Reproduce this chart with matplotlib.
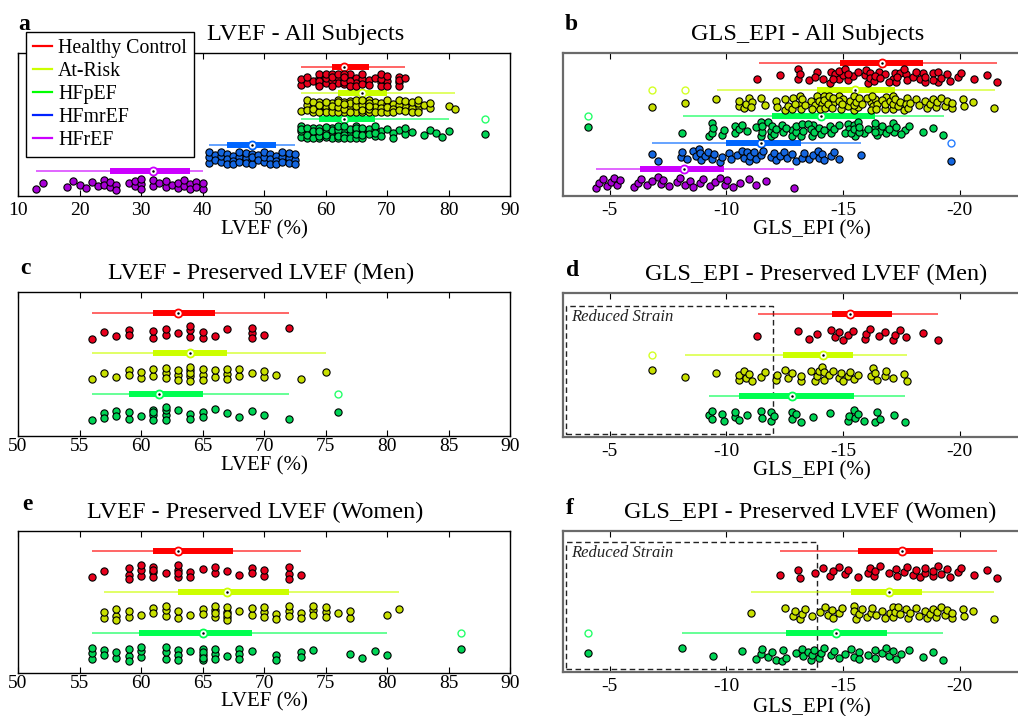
import numpy as np
import matplotlib
matplotlib.use('Agg')
import matplotlib.pyplot as plt
from matplotlib.lines import Line2D
from matplotlib.patches import Rectangle
import matplotlib.transforms as mtransforms

plt.rcParams['font.family'] = ['Liberation Serif', 'DejaVu Serif']

# ---------------- data ----------------
group_names = ['Healthy Control', 'At-Risk', 'HFpEF', 'HFmrEF', 'HFrEF']

# LVEF, preserved LVEF, men
c_hc = [56, 57, 58, 59, 59, 61, 61, 62, 62, 63, 64, 64, 64, 65, 65, 66, 67, 69, 69, 69, 70, 72]
c_ar = [56, 57, 58, 59, 59, 60, 60, 61, 61, 62, 62, 62, 63, 63, 63, 64, 64, 64, 64, 64, 65, 65, 65,
        66, 66, 67, 67, 67, 68, 68, 69, 70, 70, 71, 73, 75]
c_pef = [56, 57, 57, 58, 58, 59, 59, 60, 61, 61, 61, 61, 62, 62, 62, 62, 63, 64, 64, 65, 65, 66, 67,
         68, 69, 70, 72, 76]
# LVEF, preserved LVEF, women
e_hc = [56, 57, 59, 59, 59, 60, 60, 60, 61, 61, 61, 61, 62, 63, 63, 63, 63, 64, 64, 65, 66, 66, 67,
        68, 69, 69, 70, 70, 72, 72, 72, 73]
e_ar = [57, 57, 58, 58, 58, 59, 59, 60, 61, 61, 62, 62, 62, 63, 63, 64, 65, 65, 66, 66, 66, 66, 67,
        67, 67, 67, 67, 68, 69, 69, 70, 70, 70, 71, 71, 72, 72, 72, 73, 73, 74, 74, 74, 75, 75, 75,
        76, 77, 77, 80, 81]
e_pef = [56, 56, 56, 57, 57, 58, 58, 59, 59, 59, 60, 60, 60, 62, 62, 62, 63, 63, 63, 64, 65, 65, 65,
         65, 65, 66, 66, 66, 67, 68, 68, 68, 69, 71, 71, 73, 73, 74, 77, 78, 79, 80, 86]
# LVEF, reduced / mildly reduced
a_mref = [41, 41, 41, 42, 42, 43, 43, 43, 44, 44, 44, 45, 45, 45, 46, 46, 46, 47, 47, 47, 48, 48, 48,
          48, 49, 49, 50, 50, 50, 51, 51, 51, 52, 52, 52, 53, 53, 53, 54, 54, 54, 55, 55, 55]
a_ref = [13, 14, 18, 19, 20, 21, 22, 23, 24, 24, 25, 25, 26, 26, 28, 29, 29, 30, 30, 30, 32, 32, 33,
         34, 34, 35, 36, 36, 37, 37, 38, 38, 39, 39, 40, 40]

# GLS_EPI, preserved LVEF, men
d_hc = [-11.32, -13.09, -13.55, -13.88, -14.48, -14.67, -14.84, -14.99, -15.2, -15.42, -15.96, -15.99,
        -16.16, -16.54, -16.78, -17.14, -17.21, -17.46, -17.69, -18.41, -19.05]
d_ar = [-6.82, -8.23, -9.54, -10.53, -10.55, -10.75, -10.85, -10.96, -11.1, -11.47, -11.64, -12.11,
        -12.18, -12.5, -12.63, -12.83, -13.19, -13.22, -13.62, -13.81, -13.87, -13.95, -14.12, -14.17,
        -14.2, -14.41, -14.55, -14.81, -14.91, -14.99, -15.2, -15.3, -15.46, -15.63, -16.18, -16.28,
        -16.35, -16.45, -16.81, -16.83, -17.14, -17.63, -17.76]
d_pef = [-9.24, -9.38, -9.4, -9.81, -9.9, -10.36, -10.39, -10.56, -10.88, -11.47, -11.54, -11.9,
         -11.93, -12.04, -12.8, -12.83, -13.0, -13.2, -13.72, -14.44, -15.2, -15.24, -15.46, -15.53,
         -15.63, -15.89, -16.39, -16.47, -16.57, -17.18, -17.64]
# GLS_EPI, preserved LVEF, women
f_hc = [-12.3, -13.09, -13.14, -13.81, -14.13, -14.44, -14.58, -14.84, -15.1, -15.2, -15.63, -16.06,
        -16.14, -16.31, -16.39, -16.59, -16.97, -17.26, -17.31, -17.6, -17.74, -18.0, -18.12, -18.28,
        -18.5, -18.52, -18.84, -18.86, -19.08, -19.2, -19.47, -19.58, -19.94, -20.04, -20.62, -21.16,
        -21.6]
f_ar = [-11.06, -12.52, -12.86, -12.95, -13.15, -13.23, -13.38, -13.66, -14.01, -14.24, -14.34,
        -14.53, -14.58, -14.81, -14.96, -15.46, -15.49, -15.56, -15.68, -15.82, -16.02, -16.18,
        -16.25, -16.42, -16.68, -16.82, -17.0, -17.14, -17.16, -17.21, -17.36, -17.46, -17.69,
        -17.79, -17.86, -18.12, -18.26, -18.51, -18.58, -18.72, -18.87, -18.98, -19.03, -19.22,
        -19.37, -19.44, -19.66, -19.68, -20.13, -20.19, -20.57, -21.48]
f_pef = [-4.07, -8.12, -9.43, -10.68, -11.25, -11.47, -11.54, -11.8, -11.94, -12.11, -12.37, -12.43,
         -12.55, -12.97, -13.23, -13.28, -13.51, -13.62, -13.69, -13.76, -13.98, -14.05, -14.2,
         -14.48, -14.63, -14.84, -15.1, -15.34, -15.49, -15.68, -15.7, -16.06, -16.35, -16.39,
         -16.68, -16.85, -16.97, -17.14, -17.29, -17.5, -17.82, -18.41, -18.87, -19.3]
# GLS_EPI, reduced / mildly reduced
b_mref = [-6.8, -7.08, -8.06, -8.12, -8.3, -8.59, -8.69, -8.81, -8.88, -8.92, -9.1, -9.21, -9.38,
          -9.45, -9.74, -9.81, -10.1, -10.22, -10.46, -10.68, -10.75, -10.89, -10.96, -11.03, -11.18,
          -11.28, -11.47, -11.57, -11.9, -12.04, -12.11, -12.28, -12.47, -12.61, -12.83, -13.0,
          -13.26, -13.33, -13.55, -13.72, -13.91, -13.98, -14.09, -14.2, -14.48, -14.63, -14.84,
          -15.78, -19.61]
b_ref = [-4.43, -4.53, -4.71, -4.9, -5.07, -5.19, -5.33, -5.43, -6.05, -6.22, -6.36, -6.58, -6.8,
         -7.08, -7.2, -7.3, -7.55, -7.87, -8.02, -8.23, -8.45, -8.55, -8.88, -9.02, -9.31, -9.5,
         -9.74, -9.93, -10.03, -10.27, -10.6, -10.96, -11.25, -11.68, -12.9]

# box statistics: median, q1, q3, whisker low, whisker high
a_med = [63, 66, 63, 48, 32]
a_q1 = [61, 62, 59, 44, 25]
a_q3 = [67, 70, 68, 52, 38]
a_wlo = [56, 56, 56, 41, 13]
a_whi = [73, 81, 80, 55, 40]

b_med = [-16.68, -15.53, -14.05, -11.47, -8.2]
b_q1 = [-14.89, -13.9, -11.97, -10.0, -6.29]
b_q3 = [-18.43, -17.24, -16.38, -13.19, -9.89]
b_wlo = [-11.42, -9.6, -8.16, -6.8, -4.43]
b_whi = [-21.62, -21.52, -19.34, -15.78, -12.9]

c_med = [63, 64, 61.5]
c_q1 = [61, 61, 59]
c_q3 = [66, 67, 65]
c_wlo = [56, 56, 56]
c_whi = [72, 75, 72]

d_med = [-15.32, -14.15, -12.83]
d_q1 = [-14.54, -12.43, -10.53]
d_q3 = [-17.11, -15.42, -15.49]
d_wlo = [-11.37, -8.23, -9.24]
d_whi = [-19.05, -17.76, -17.64]

e_med = [63, 67, 65]
e_q1 = [61, 63, 59.8]
e_q3 = [67.5, 72, 69]
e_wlo = [56, 57, 56]
e_whi = [73, 81, 80]

f_med = [-17.53, -16.97, -14.7]
f_q1 = [-15.63, -15.34, -12.55]
f_q3 = [-18.87, -18.4, -16.88]
f_wlo = [-12.3, -11.06, -8.12]
f_whi = [-21.6, -21.48, -19.3]

reduced_strain_men = -12.0
reduced_strain_women = -13.9

lvef_ticks_a = [10, 20, 30, 40, 50, 60, 70, 80, 90]
lvef_ticks_ce = [50, 55, 60, 65, 70, 75, 80, 85, 90]
gls_ticks = [-5, -10, -15, -20]

# ---------------- styling ----------------
line_colors = ['#ff0000', '#ccff00', '#00ff50', '#0066ff', '#cc00ff']
point_colors = ['#e8001c', '#c8e000', '#00d455', '#1466e0', '#a800d6']
legend_colors = ['#ff0000', '#ccff00', '#00ff00', '#0022ff', '#cc00ff']

W, H = 1018, 716
fig = plt.figure(figsize=(W / 100, H / 100), dpi=100)


def add_axes(x0, y0, x1, y1):
    return fig.add_axes([x0 / W, 1 - y1 / H, (x1 - x0) / W, (y1 - y0) / H])


def swarm(ax, vals, yc, band, dmin=5.0, spread=0.75):
    vals = np.asarray(vals, float)
    xy = ax.transData.transform(np.column_stack([vals, np.full(len(vals), yc)]))
    xp = xy[:, 0]
    y0 = xy[0, 1]
    cands = np.arange(-band, band + 0.01, 0.5)
    px_l, py_l = [], []
    offs = np.zeros(len(vals))
    order = np.argsort(vals, kind='stable')
    for k, idx in enumerate(order):
        pref = ((k * 0.6180339887) % 1.0 - 0.5) * 2 * band * spread
        cs = cands[np.argsort(np.abs(cands - pref), kind='stable')]
        if px_l:
            px = np.array(px_l)
            py = np.array(py_l)
            d = np.array([np.min(np.hypot(px - xp[idx], py - c)) for c in cs])
            ok = np.where(d >= dmin)[0]
            c = cs[ok[0]] if len(ok) else cs[np.argmax(d)]
        else:
            c = cs[0]
        px_l.append(xp[idx])
        py_l.append(c)
        offs[idx] = c
    ys = ax.transData.inverted().transform(np.column_stack([xp, y0 + offs]))[:, 1]
    return ys


def draw_panel(ax, groups, med, q1, q3, wlo, whi, xlim, ylim, ticks, band,
               title, title_x, xlabel, xlabel_y, pad, right_col=False, tol=0.15):
    ax.set_xlim(*xlim)
    ax.set_ylim(*ylim)
    for i, vals in enumerate(groups):
        lc = line_colors[i]
        pc = point_colors[i]
        ax.plot([wlo[i], whi[i]], [i, i], color=lc, lw=1.2, alpha=0.7,
                solid_capstyle='butt', zorder=2)
        ax.plot([q1[i], q3[i]], [i, i], color=lc, lw=4.3, solid_capstyle='butt', zorder=3)
        ax.plot([med[i]], [i], 'o', ms=5.8, mfc='white', mec=lc, mew=1.3, zorder=4)
        ax.plot([med[i]], [i], 'o', ms=1.8, mfc='black', mec='black', mew=0, zorder=5)
        v = np.asarray(vals, float)
        lo, hi = min(wlo[i], whi[i]), max(wlo[i], whi[i])
        out = v[(v < lo - tol) | (v > hi + tol)]
        ax.plot(out, np.full(len(out), i), 'o', ms=5.0, mfc='white', mec=lc, mew=1.0,
                alpha=0.85, zorder=4)
        ys = swarm(ax, v, i + 0.5, band)
        ax.scatter(v, ys, s=27, c=pc, edgecolors='black', linewidths=0.8, zorder=6)
    ax.set_yticks([])
    ax.set_xticks(ticks)
    ax.set_xticklabels([str(t) for t in ticks])
    ax.tick_params(axis='x', direction='in', top=True, bottom=True, length=4, width=0.8,
                   labelsize=14, pad=pad)
    if right_col:
        for s in ax.spines.values():
            s.set_color('#6a6a6a')
            s.set_linewidth(1.6)
    else:
        for s in ax.spines.values():
            s.set_color('black')
            s.set_linewidth(1.0)
    ax.text(title_x, 1.128, title, transform=ax.transAxes, ha='center', va='center',
            fontsize=17.5)
    ax.text(0.5, xlabel_y, xlabel, transform=ax.transAxes, ha='center', va='center',
            fontsize=15)


def reduced_box(ax, xthr, ytop, label_y):
    trans = mtransforms.blended_transform_factory(ax.transData, ax.transAxes)
    x0 = -3.13
    ax.add_patch(Rectangle((x0, 0.018), xthr - x0, ytop - 0.018, transform=trans,
                           fill=False, ec='#222222', lw=1.0, ls=(0, (4, 2.5)), zorder=1))
    ax.text(-3.35, label_y, 'Reduced Strain', transform=trans, ha='left', va='center',
            fontsize=12, style='italic', color='#222222')


axA = add_axes(18, 53, 510, 196)
axB = add_axes(563, 53, 1060, 196)
axC = add_axes(18, 292, 510, 436)
axD = add_axes(563, 293, 1060, 437)
axE = add_axes(18, 531, 510, 673)
axF = add_axes(563, 531, 1060, 672)

gls_xlim = (-3.0, -24.3)

draw_panel(axA, [c_hc + e_hc, c_ar + e_ar, c_pef + e_pef, a_mref, a_ref],
           a_med, a_q1, a_q3, a_wlo, a_whi, (10, 90), (4.96, -0.54), lvef_ticks_a, 6,
           'LVEF - All Subjects', 0.585, 'LVEF (%)', -0.24, 4)
draw_panel(axB, [d_hc + f_hc, d_ar + f_ar, d_pef + f_pef, b_mref, b_ref],
           b_med, b_q1, b_q3, b_wlo, b_whi, gls_xlim, (5.02, -0.38), gls_ticks, 7,
           'GLS_EPI - All Subjects', 0.493, 'GLS_EPI (%)', -0.24, 4, right_col=True)
draw_panel(axC, [c_hc, c_ar, c_pef], c_med, c_q1, c_q3, c_wlo, c_whi,
           (50, 90), (3.04, -0.52), lvef_ticks_ce, 7,
           'LVEF - Preserved LVEF (Men)', 0.494, 'LVEF (%)', -0.21, 1.5)
draw_panel(axD, [d_hc, d_ar, d_pef], d_med, d_q1, d_q3, d_wlo, d_whi,
           gls_xlim, (3.0, -0.51), gls_ticks, 8,
           'GLS_EPI - Preserved LVEF (Men)', 0.51, 'GLS_EPI (%)', -0.235, 4, right_col=True)
draw_panel(axE, [e_hc, e_ar, e_pef], e_med, e_q1, e_q3, e_wlo, e_whi,
           (50, 90), (2.97, -0.49), lvef_ticks_ce, 7,
           'LVEF - Preserved LVEF (Women)', 0.483, 'LVEF (%)', -0.205, 1.5)
draw_panel(axF, [f_hc, f_ar, f_pef], f_med, f_q1, f_q3, f_wlo, f_whi,
           gls_xlim, (2.95, -0.49), gls_ticks, 8,
           'GLS_EPI - Preserved LVEF (Women)', 0.497, 'GLS_EPI (%)', -0.255, 4, right_col=True)

reduced_box(axD, reduced_strain_men, 0.91, 0.835)
reduced_box(axF, reduced_strain_women, 0.92, 0.845)

# panel letters
for lab, (px, py) in zip('abcdef', [(18, 24), (565, 24), (20, 268), (566, 270), (22, 505), (566, 508)]):
    fig.text(px / W, 1 - py / H, lab, fontsize=17, fontweight='bold', ha='left', va='center')

handles = [Line2D([0], [0], color=c, lw=1.6) for c in legend_colors]
leg = fig.legend(handles, group_names, loc='upper left', bbox_to_anchor=(26 / W, 1 - 32 / H),
                 frameon=True, fancybox=False, framealpha=1, edgecolor='black', fontsize=14.3,
                 handlelength=0.95, handletextpad=0.3, labelspacing=0.2, borderpad=0.36,
                 borderaxespad=0)
leg.get_frame().set_linewidth(1.0)

fig.savefig('out.png', dpi=100)
